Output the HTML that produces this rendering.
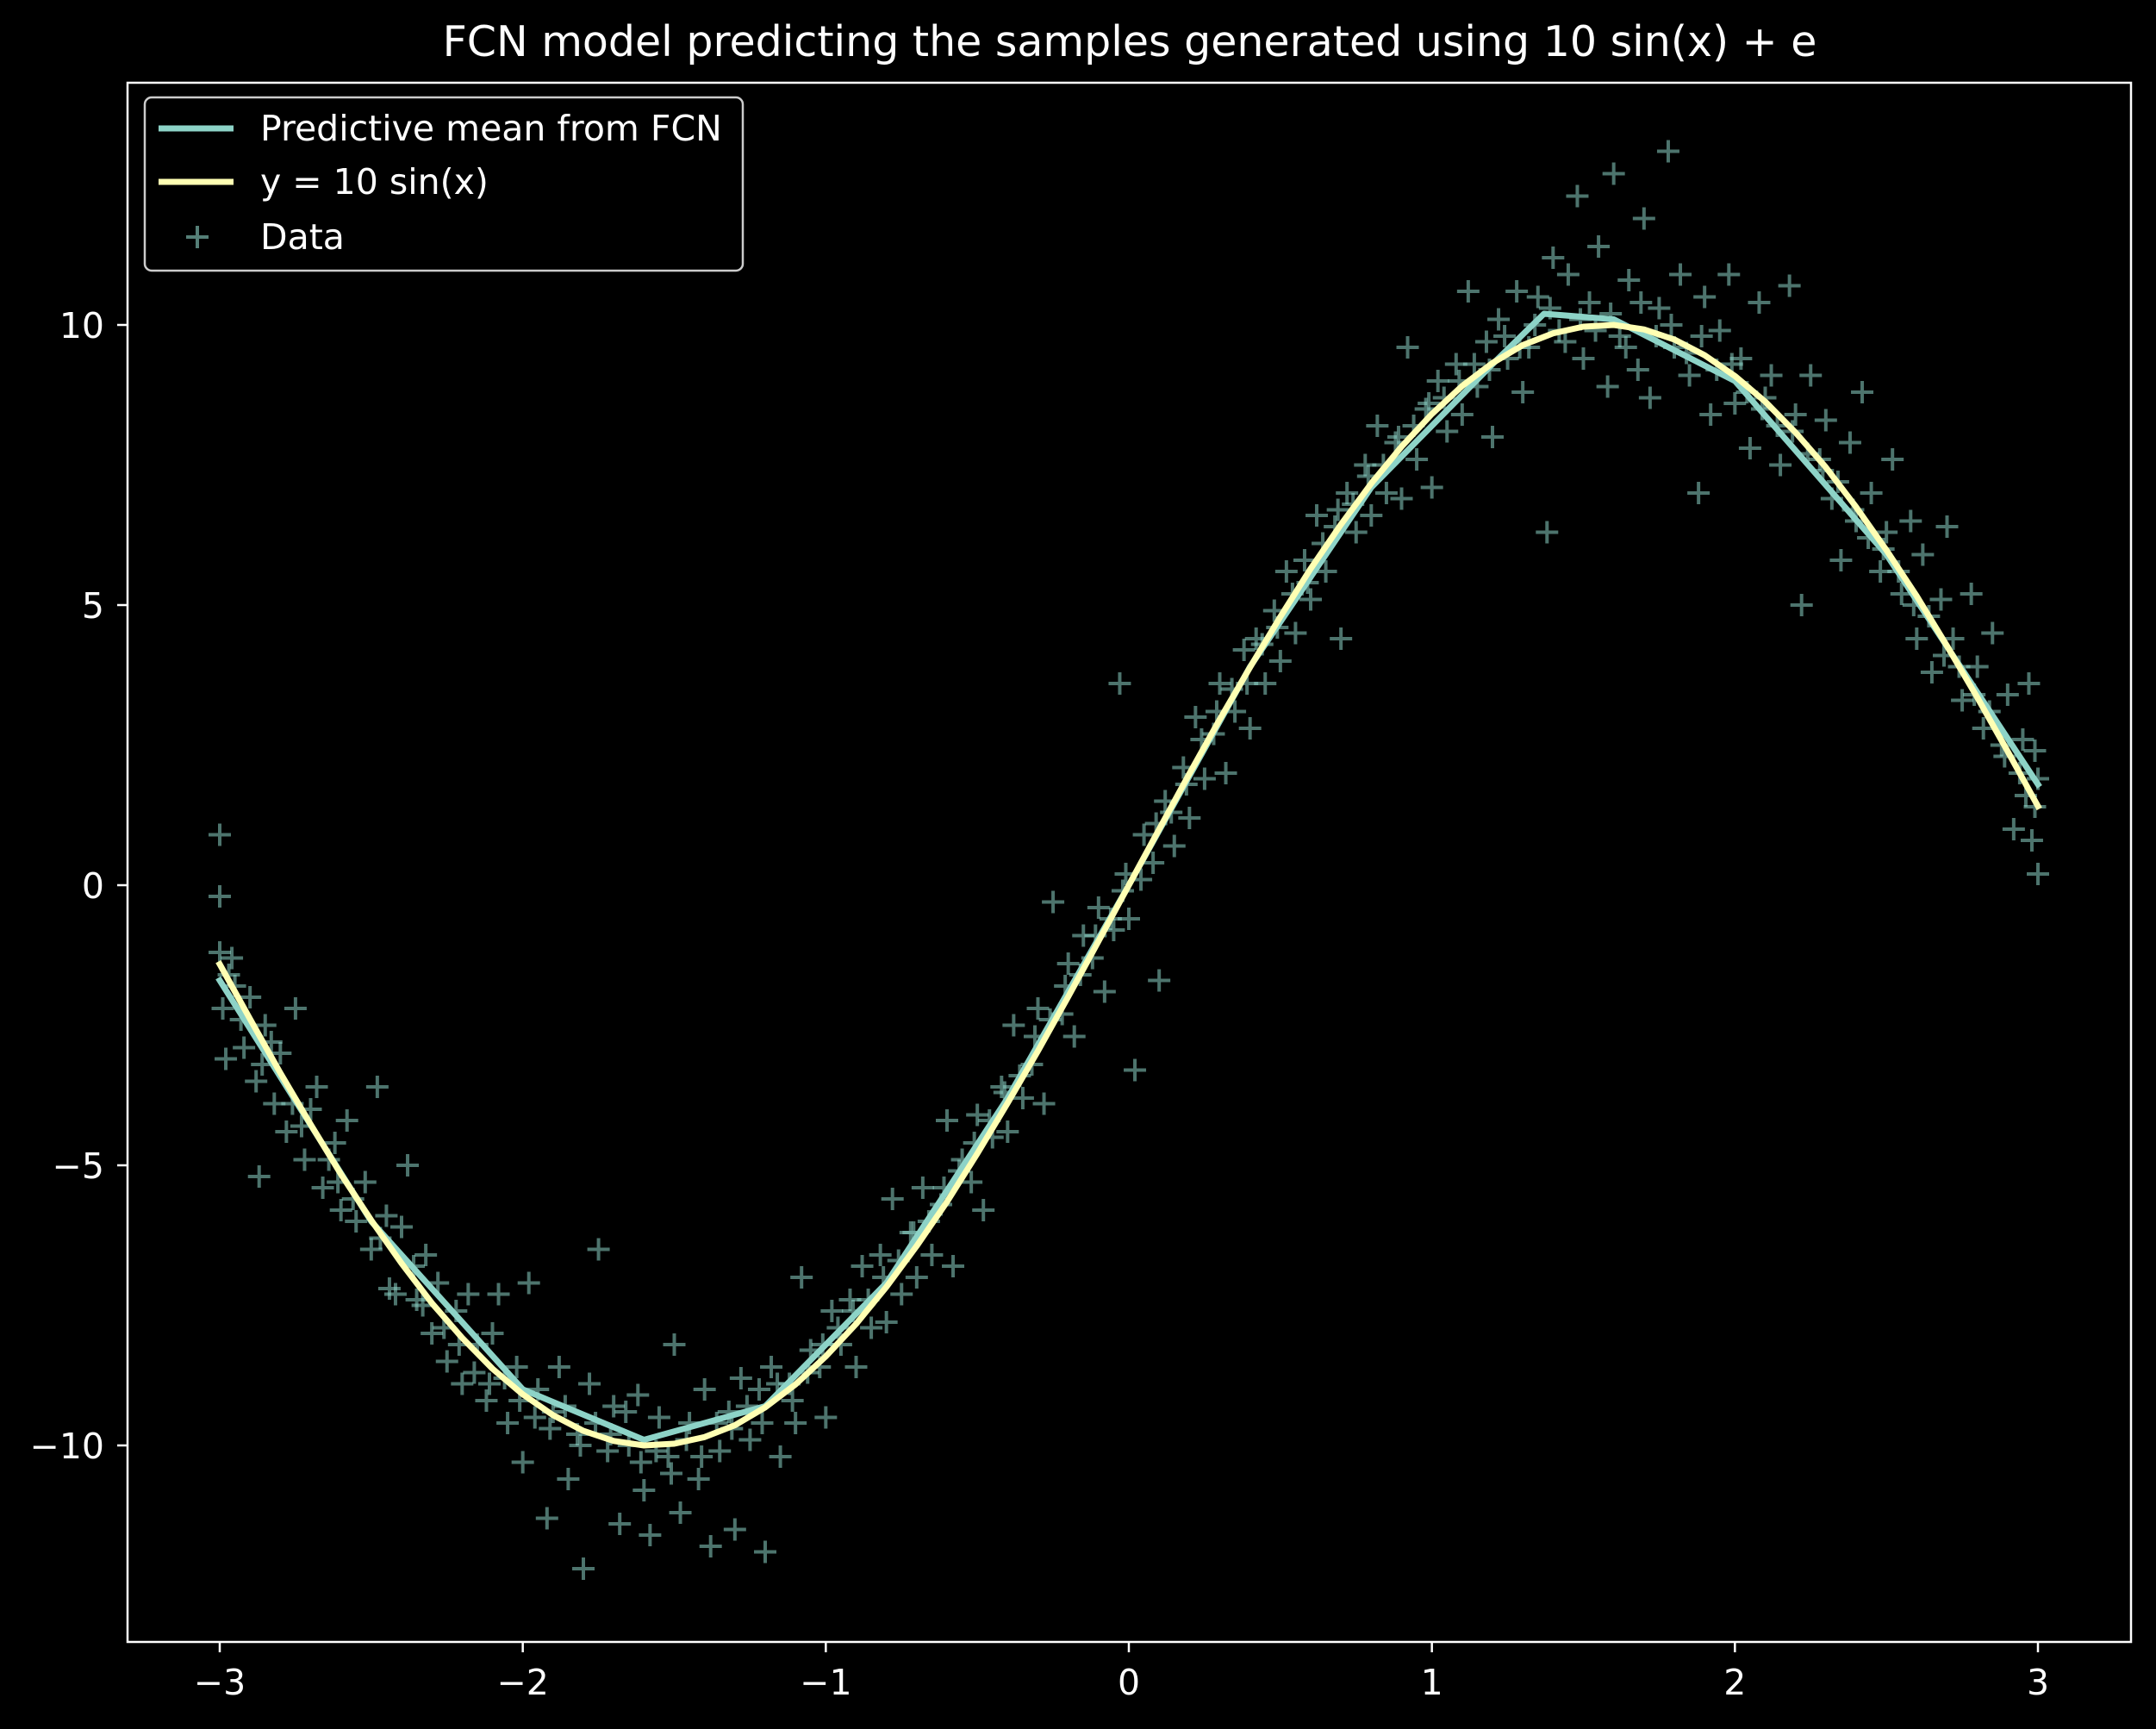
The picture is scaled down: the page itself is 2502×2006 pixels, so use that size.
<!DOCTYPE html>
<html><head><meta charset="utf-8"><style>
html,body{margin:0;padding:0;background:#000;}
svg{display:block;font-family:"DejaVu Sans","Liberation Sans",sans-serif;}
</style></head><body>
<svg id="chart" width="2502" height="2006" viewBox="0 0 2502 2006" xmlns="http://www.w3.org/2000/svg">
<rect x="0" y="0" width="2502" height="2006" fill="#000"/>
<text x="1311" y="65" fill="#fff" font-size="49" text-anchor="middle">FCN model predicting the samples generated using 10 sin(x) + e</text>
<g id="data-layer"></g>
<g id="lines-layer"></g>
<rect x="148" y="96" width="2325" height="1809" fill="none" stroke="#fff" stroke-width="2.5"/>
<g id="axes-layer"></g>
<g>
<rect x="168" y="113" width="694" height="201" rx="8" fill="#000" fill-opacity="0.8" stroke="#ccc" stroke-width="2.5"/>
<line x1="184" y1="149" x2="271" y2="149" stroke="#8dd3c7" stroke-width="7"/>
<text x="302" y="163" fill="#fff" font-size="41">Predictive mean from FCN</text>
<line x1="184" y1="211" x2="271" y2="211" stroke="#ffffb3" stroke-width="7"/>
<text x="302" y="225" fill="#fff" font-size="41">y = 10 sin(x)</text>
<path d="M216 275 h26 M229 262 v26" stroke="#8dd3c7" stroke-opacity="0.6" stroke-width="4"/>
<text x="302" y="289" fill="#fff" font-size="41">Data</text>
</g>
</svg>
<script>
const xTicks = [-3,-2,-1,0,1,2,3];
const xTickLabels = ["\u22123","\u22122","\u22121","0","1","2","3"];
const yTicks = [-10,-5,0,5,10];
const yTickLabels = ["\u221210","\u22125","0","5","10"];
const dataPts = [[-3.0,-1.2],[-2.99,-2.2],[-3.0,0.9],[-3.0,-0.2],[-2.98,-3.1],[-2.96,-1.3],[-2.95,-1.8],
[-2.92,-2.9],[-2.9,-2.0],[-2.88,-3.5],[-2.87,-5.2],[-2.85,-2.5],[-2.82,-3.9],[-2.8,-3.0],[-2.78,-4.4],[-2.75,-2.2],
[-2.72,-4.9],[-2.7,-4.0],[-2.68,-3.6],[-2.66,-5.4],[-2.62,-4.6],[-2.6,-5.8],[-2.58,-4.2],[-2.55,-6.0],
[-2.52,-5.3],[-2.5,-6.5],[-2.48,-3.6],[-2.45,-5.9],[-2.42,-7.3],[-2.4,-6.1],[-2.38,-5.0],[-2.35,-7.4],
[-2.32,-6.6],[-2.3,-8.0],[-2.28,-7.1],[-2.25,-8.5],[-2.22,-7.6],[-2.2,-8.9],[-2.18,-7.3],[-2.15,-8.2],
[-2.12,-9.2],[-2.1,-8.0],[-2.08,-7.3],[-2.05,-9.6],[-2.02,-8.6],[-2.0,-10.3],[-1.98,-7.1],[-1.95,-9.0],
[-1.92,-11.3],[-1.9,-9.4],[-1.88,-8.6],[-1.85,-10.6],[-1.82,-9.8],[-1.8,-12.2],[-1.78,-8.9],[-1.75,-6.5],
[-1.72,-10.1],[-1.7,-9.3],[-1.68,-11.4],[-1.65,-10.0],[-1.62,-9.1],[-1.6,-10.8],[-1.58,-11.6],[-1.55,-9.5],
[-1.52,-10.2],[-1.5,-8.2],[-1.48,-11.2],[-1.45,-9.6],[-1.42,-10.6],[-1.4,-9.0],[-1.38,-11.8],[-1.35,-10.1],
[-1.32,-9.4],[-1.3,-11.5],[-1.28,-8.8],[-1.25,-9.9],[-1.22,-9.0],[-1.2,-11.9],[-1.18,-8.6],[-1.15,-10.2],
[-1.12,-8.9],[-1.1,-9.6],[-1.08,-7.0],[-1.05,-8.3],[-1.02,-8.6],[-1.0,-9.5],[-0.98,-7.6],[-0.95,-8.2],
[-0.92,-7.4],[-0.9,-8.6],[-0.88,-6.8],[-0.85,-7.9],[-0.82,-6.6],[-0.8,-7.8],[-0.78,-5.6],[-0.75,-7.3],
[-0.72,-6.2],[-0.7,-7.0],[-0.68,-5.4],[-0.65,-6.6],[-0.62,-5.7],[-0.6,-4.2],[-0.58,-6.8],[-0.55,-4.9],
[-0.52,-5.3],[-0.5,-4.1],[-0.48,-5.8],[-0.45,-4.5],[-0.42,-3.6],[-0.4,-4.4],[-0.38,-2.5],[-0.35,-3.8],
[-0.32,-3.2],[-0.3,-2.2],[-0.28,-3.9],[-0.25,-0.3],[-0.22,-2.3],[-0.2,-1.4],[-0.18,-2.7],[-0.15,-0.9],
[-0.12,-1.3],[-0.1,-0.4],[-0.08,-1.9],[-0.05,-0.8],[-0.02,-0.1],[0.0,-0.6],[0.02,-3.3],[0.05,0.9],
[-0.03,3.6],[0.08,0.4],[0.1,-1.7],[0.12,1.5],[0.15,0.7],[0.18,2.1],[0.2,1.2],[0.22,3.0],
[0.25,1.9],[0.28,2.7],[0.3,3.6],[0.32,2.0],[0.35,3.1],[0.38,4.2],[0.4,2.8],[0.42,4.4],
[0.45,3.6],[0.48,4.9],[0.5,4.0],[0.52,5.6],[0.55,4.5],[0.58,5.8],[0.6,5.1],[0.62,6.6],
[0.65,5.6],[0.68,6.4],[0.7,4.4],[0.72,7.0],[0.75,6.3],[0.78,7.5],[0.8,6.6],[0.82,8.2],
[0.85,7.0],[0.88,7.9],[0.9,6.9],[0.92,9.6],[0.95,7.6],[0.98,8.5],[1.0,7.1],[1.02,9.0],
[1.05,8.1],[1.08,9.3],[1.1,8.4],[1.12,10.6],[1.15,8.9],[1.18,9.7],[1.2,8.0],[1.22,10.1],
[1.25,9.4],[1.28,10.6],[1.3,8.8],[1.32,9.6],[1.35,10.5],[1.38,6.3],[1.4,11.2],[1.42,9.9],
[1.45,10.9],[1.48,12.3],[1.5,9.4],[1.52,10.4],[1.55,11.4],[1.58,8.9],[1.6,12.7],[1.62,9.8],
[1.65,10.8],[1.68,9.2],[1.7,11.9],[1.72,8.7],[1.75,10.3],[1.78,13.1],[1.8,9.6],[1.82,10.9],
[1.85,9.1],[1.88,7.0],[1.9,10.5],[1.92,8.4],[1.95,9.9],[1.98,10.9],[2.0,8.6],[2.02,9.4],
[2.05,7.8],[2.08,10.4],[2.1,8.7],[2.12,9.1],[2.15,7.5],[2.18,10.7],[2.2,8.4],[2.22,5.0],
[2.25,9.1],[2.28,7.6],[2.3,8.3],[2.32,6.9],[2.35,5.8],[2.38,7.9],[2.4,6.5],[2.42,8.8],
[2.45,7.0],[2.48,5.6],[2.5,6.3],[2.52,7.6],[2.55,5.2],[2.58,6.5],[2.6,4.4],[2.62,5.9],
[2.65,3.8],[2.68,5.1],[2.7,6.4],[2.72,4.4],[2.75,3.3],[2.78,5.2],[2.8,3.9],[2.82,2.8],
[2.85,4.5],[2.88,2.5],[2.9,3.4],[2.92,1.0],[2.95,2.6],[2.97,3.6],[2.98,0.8],[3.0,1.9],[3.0,0.2],[2.99,2.4],
[-2.97,-1.6],[-2.93,-2.4],[-2.86,-3.2],[-2.83,-2.8],[-2.76,-3.9],[-2.73,-4.3],[-2.64,-4.9],[-2.61,-5.3],[-2.56,-5.6],[-2.47,-6.3],
[-2.44,-7.2],[-2.36,-6.8],[-2.33,-7.5],[-2.26,-7.9],[-2.21,-8.2],[-2.16,-8.7],[-2.11,-8.9],[-2.06,-8.8],[-2.01,-9.2],[-1.96,-9.5],
[-1.91,-9.7],[-1.86,-9.3],[-1.81,-10.0],[-1.76,-9.6],[-1.71,-9.8],[-1.66,-9.4],[-1.61,-10.3],[-1.56,-10.1],[-1.51,-10.5],[-1.46,-9.9],
[-1.41,-10.2],[-1.36,-9.6],[-1.31,-9.7],[-1.26,-9.3],[-1.21,-9.6],[-1.16,-8.9],[-1.11,-9.2],[-1.06,-8.7],[-1.01,-8.2],[-0.96,-7.9],
[-0.91,-7.6],[-0.86,-7.4],[-0.81,-7.0],[-0.76,-6.7],[-0.71,-6.2],[-0.66,-6.0],[-0.61,-5.4],[-0.56,-5.1],[-0.51,-4.6],[-0.46,-4.2],
[-0.41,-3.7],[-0.36,-3.4],[-0.31,-2.7],[-0.26,-2.4],[-0.21,-1.8],[-0.16,-1.6],[-0.11,-0.9],[-0.06,-0.6],[-0.01,0.2],[0.04,0.1],
[0.09,1.1],[0.14,1.3],[0.19,1.8],[0.24,2.6],[0.29,3.1],[0.34,3.5],[0.39,3.6],[0.44,4.3],[0.49,4.6],[0.54,5.2],
[0.59,5.4],[0.64,6.1],[0.69,6.7],[0.74,6.8],[0.79,7.3],[0.84,7.5],[0.89,8.0],[0.94,8.2],[0.99,8.6],[1.04,8.7],
[1.09,9.0],[1.14,9.3],[1.19,9.2],[1.24,9.8],[1.29,9.6],[1.34,10.0],[1.39,10.3],[1.44,9.7],[1.49,10.1],[1.54,9.9],
[1.59,10.2],[1.64,9.6],[1.69,10.4],[1.74,9.8],[1.79,10.0],[1.84,9.5],[1.89,9.8],[1.94,9.2],[1.99,9.3],[2.04,8.8],
[2.09,8.5],[2.14,8.2],[2.19,8.1],[2.24,7.7],[2.29,7.4],[2.34,7.2],[2.39,6.7],[2.44,6.2],[2.49,6.0],[2.54,5.6],
[2.59,5.0],[2.64,4.8],[2.69,4.1],[2.74,3.9],[2.79,3.4],[2.84,3.1],[2.89,2.3],[2.94,2.0],[2.96,1.6],[2.99,1.4]];
const sinX = [-3.0,-2.9,-2.8,-2.7,-2.6,-2.5,-2.4,-2.3,-2.2,-2.1,-2.0,-1.9,-1.8,-1.7,-1.6,-1.5,-1.4,-1.3,-1.2,-1.1,-1.0,-0.9,-0.8,-0.7,-0.6,-0.5,-0.4,-0.3,-0.2,-0.1,0,0.1,0.2,0.3,0.4,0.5,0.6,0.7,0.8,0.9,1.0,1.1,1.2,1.3,1.4,1.5,1.6,1.7,1.8,1.9,2.0,2.1,2.2,2.3,2.4,2.5,2.6,2.7,2.8,2.9,3.0];
const sinY = [-1.41,-2.39,-3.35,-4.27,-5.16,-5.98,-6.75,-7.46,-8.08,-8.63,-9.09,-9.46,-9.74,-9.92,-10.0,-9.97,-9.85,-9.64,-9.32,-8.91,-8.41,-7.83,-7.17,-6.44,-5.65,-4.79,-3.89,-2.96,-1.99,-1.0,0,1.0,1.99,2.96,3.89,4.79,5.65,6.44,7.17,7.83,8.41,8.91,9.32,9.64,9.85,9.97,10.0,9.92,9.74,9.46,9.09,8.63,8.08,7.46,6.75,5.98,5.16,4.27,3.35,2.39,1.41];
const fcnX = [-3.0,-2.5,-2.0,-1.6,-1.2,-0.8,-0.4,0,0.4,0.8,1.2,1.37,1.6,2.0,2.5,3.0];
const fcnY = [-1.7,-6.0,-9.0,-9.9,-9.3,-7.1,-3.8,0,3.9,7.1,9.3,10.2,10.1,9.0,5.9,1.8];

const NS = "http://www.w3.org/2000/svg";
function sx(v){ return 255 + (v + 3) * (2365 - 255) / 6; }
function sy(v){ return 1677 - (v + 10) * (1677 - 377) / 20; }

const dataLayer = document.getElementById('data-layer');
dataPts.forEach(p => {
  const x = sx(p[0]), y = sy(p[1]);
  const m = document.createElementNS(NS, 'path');
  m.setAttribute('d', `M${x-13} ${y} h26 M${x} ${y-13} v26`);
  m.setAttribute('stroke', '#8dd3c7');
  m.setAttribute('stroke-opacity', '0.55');
  m.setAttribute('stroke-width', '4');
  
  
  dataLayer.appendChild(m);
});

const linesLayer = document.getElementById('lines-layer');
function makeLine(xs, ys, color){
  const d = xs.map((x, i) => (i ? 'L' : 'M') + sx(x).toFixed(1) + ' ' + sy(ys[i]).toFixed(1)).join(' ');
  const p = document.createElementNS(NS, 'path');
  p.setAttribute('d', d);
  p.setAttribute('fill', 'none');
  p.setAttribute('stroke', color);
  p.setAttribute('stroke-width', '7');
  p.setAttribute('stroke-linejoin', 'round');
  p.setAttribute('stroke-linecap', 'square');
  return p;
}
const fcn = makeLine(fcnX, fcnY, '#8dd3c7');


linesLayer.appendChild(fcn);
const sinLine = makeLine(sinX, sinY, '#ffffb3');


linesLayer.appendChild(sinLine);

const axes = document.getElementById('axes-layer');
xTicks.forEach((t, i) => {
  const x = sx(t);
  const l = document.createElementNS(NS, 'line');
  l.setAttribute('x1', x); l.setAttribute('x2', x);
  l.setAttribute('y1', 1905); l.setAttribute('y2', 1917);
  l.setAttribute('stroke', '#fff'); l.setAttribute('stroke-width', '2.5');
  
  
  axes.appendChild(l);
  const tx = document.createElementNS(NS, 'text');
  tx.setAttribute('x', x); tx.setAttribute('y', 1966);
  tx.setAttribute('fill', '#fff'); tx.setAttribute('font-size', '41');
  tx.setAttribute('text-anchor', 'middle');
  tx.textContent = xTickLabels[i];
  
  
  axes.appendChild(tx);
});
yTicks.forEach((t, i) => {
  const y = sy(t);
  const l = document.createElementNS(NS, 'line');
  l.setAttribute('x1', 136); l.setAttribute('x2', 148);
  l.setAttribute('y1', y); l.setAttribute('y2', y);
  l.setAttribute('stroke', '#fff'); l.setAttribute('stroke-width', '2.5');
  
  
  axes.appendChild(l);
  const tx = document.createElementNS(NS, 'text');
  tx.setAttribute('x', 121); tx.setAttribute('y', y + 15);
  tx.setAttribute('fill', '#fff'); tx.setAttribute('font-size', '41');
  tx.setAttribute('text-anchor', 'end');
  tx.textContent = yTickLabels[i];
  
  
  axes.appendChild(tx);
});
</script>
</body></html>
